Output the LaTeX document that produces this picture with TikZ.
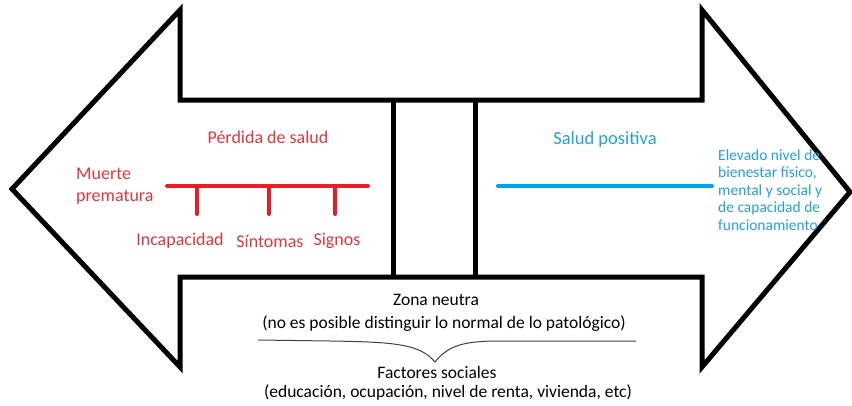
\documentclass[tikz,border=0pt]{standalone}
\usepackage{fontspec}
\setmainfont{Carlito}
\usepackage{xcolor}
\definecolor{lossred}{RGB}{237,28,36}
\definecolor{losstext}{RGB}{230,52,60}
\definecolor{goodblue}{RGB}{0,162,232}
\definecolor{goodtext}{RGB}{35,160,220}
\usetikzlibrary{calc}

\begin{document}
\begin{tikzpicture}[x=1pt, y=-1pt,
    outline/.style={line width=5pt, black, line join=miter},
    redline/.style={line width=4pt, lossred, line cap=round},
    blueline/.style={line width=4pt, goodblue, line cap=round},
    redlabel/.style={losstext, inner sep=0pt, font=\fontsize{18}{22}\selectfont},
    bluelabel/.style={goodtext, inner sep=0pt, font=\fontsize{15.5}{17.5}\selectfont},
    blacklabel/.style={black, inner sep=0pt, font=\fontsize{17.5}{22}\selectfont}]

    \useasboundingbox (0,0) rectangle (852,405);

    %% Double arrow
    \draw[outline] (180,100) -- (702,100) -- (702,10) -- (850,192) -- (702,367)
        -- (702,277) -- (180,277) -- (180,367) -- (12,189) -- (180,10) -- cycle;
    \draw[outline] (393,100) -- (393,277);
    \draw[outline] (475,100) -- (475,277);

    % Loss of health
    \node[redlabel] (loss) at (268,137) {Pérdida de salud};
    \node[redlabel, align=left, anchor=west] (death) at (76,186) {Muerte\\prematura};
    \coordinate (lossL) at (167,186);
    \coordinate (lossR) at (368,186);
    \draw[redline] (lossL) -- (lossR);
    \foreach \x/\lx/\name/\txt in {197/180/inc/Incapacidad, 269/270/sin/Síntomas, 335/337/sig/Signos} {
        \coordinate (\name top) at (\x,186);
        \coordinate (\name end) at (\x,214);
        \draw[redline] (\name top) -- (\name end);
        \node[redlabel] (\name) at (\lx,241) {\txt};
    }

    % Positive health
    \node[bluelabel] (good) at (605,140) {\fontsize{18.5}{22}\selectfont Salud positiva};
    \coordinate (goodL) at (498,186);
    \coordinate (goodR) at (712,186);
    \draw[blueline] (goodL) -- (goodR);
    \node[bluelabel, align=left, anchor=west] (wellbeing) at (718,190)
        {Elevado nivel de\\bienestar físico,\\mental y social y\\de capacidad de\\funcionamiento};

    % Neutral zone and brace
    \node[blacklabel] (zone) at (436,300) {Zona neutra};
    \node[blacklabel] (zonenote) at (444,324) {(no es posible distinguir lo normal de lo patológico)};
    \coordinate (braceL) at (258,340);
    \coordinate (braceM) at (435,362);
    \coordinate (braceR) at (636,341);
    \draw[black!75, line width=1pt] (braceL) -- (330,341) .. controls (395,342) and (420,344) .. (braceM)
        .. controls (448,346) and (462,341) .. (500,341) -- (braceR);
    \node[blacklabel] (social) at (437,372) {Factores sociales};
    \node[blacklabel] (socialnote) at (448,393) {(educación, ocupación, nivel de renta, vivienda, etc)};

\end{tikzpicture}
\end{document}
